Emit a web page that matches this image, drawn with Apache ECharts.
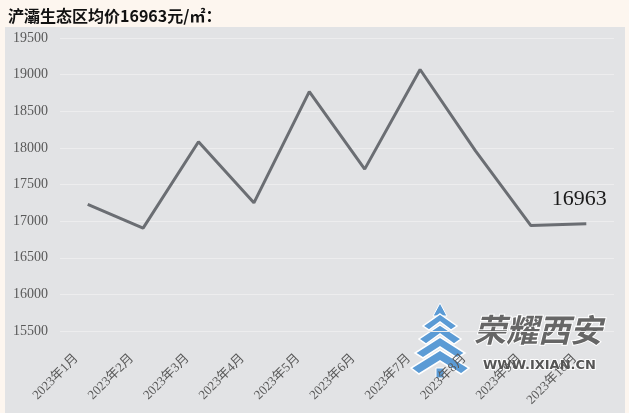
<!DOCTYPE html>
<html>
<head>
<meta charset="utf-8">
<script src="https://cdn.jsdelivr.net/npm/echarts@6/dist/echarts.min.js"></script>
<style>
html,body{margin:0;padding:0;background:#fdf6ef;}
#c{width:629px;height:413px;}
</style>
</head>
<body>
<div id="c"></div>
<script>
var titleText = '浐灞生态区均价16963元/㎡：';
var categories = ['2023年1月','2023年2月','2023年3月','2023年4月','2023年5月','2023年6月','2023年7月','2023年8月','2023年9月','2023年10月'];
var prices = [17230, 16905, 18083, 17250, 18767, 17710, 19070, 17960, 16940, 16963];
var yMin = 15500, yMax = 19500, yStep = 500;

var chart = echarts.init(document.getElementById('c'), null, {renderer:'canvas'});
var seriesData = prices.map(function(v, i){
  if (i === prices.length - 1) {
    return {value: v, label: {show: true, position: 'top', offset: [-7, -9], formatter: String(v),
      fontFamily: 'Liberation Serif', fontSize: 22, color: '#1a1a1a'}};
  }
  return v;
});

chart.setOption({
  backgroundColor: '#fdf6ef',
  animation: false,
  title: {
    text: titleText, left: 3, top: 3,
    textStyle: {fontFamily: 'Noto Sans CJK SC', fontWeight: 'bold', fontSize: 16, color: '#111'}
  },
  graphic: [
    {type: 'rect', z: -10, shape: {x: 5, y: 27, width: 620, height: 386}, style: {fill: '#e2e3e5'}},
    {type: 'group', z: 100, children: [
      {type: 'polygon', shape: {points: [[440,303],[447,316],[433,316]]}, style: {fill: '#5b9bd5', stroke: '#fff', lineWidth: 1}},
      {type: 'polygon', shape: {points: [[440,314],[457,326],[451,330],[440,322],[429,330],[423,326]]}, style: {fill: '#5b9bd5', stroke: '#fff', lineWidth: 1.5}},
      {type: 'polygon', shape: {points: [[440,325],[461,339],[454,344],[440,334],[426,344],[419,339]]}, style: {fill: '#5b9bd5', stroke: '#fff', lineWidth: 1.5}},
      {type: 'polygon', shape: {points: [[440,337],[465,353],[457,358],[440,347],[423,358],[415,353]]}, style: {fill: '#5b9bd5', stroke: '#fff', lineWidth: 1.5}},
      {type: 'polygon', shape: {points: [[440,350],[469,368],[461,374],[440,361],[419,374],[411,368]]}, style: {fill: '#5b9bd5', stroke: '#fff', lineWidth: 1.5}},
      {type: 'rect', shape: {x: 436, y: 368, width: 8, height: 10}, style: {fill: '#5b9bd5', stroke: '#fff', lineWidth: 1}},
      {type: 'text', style: {text: '荣耀西安', x: 474, y: 314, font: 'italic bold 32px "Noto Sans CJK SC"', fill: '#666', stroke: '#fff', lineWidth: 2}},
      {type: 'text', style: {text: 'WWW.IXIAN.CN', x: 483, y: 359, font: 'bold 13px "DejaVu Sans"', fill: '#555', stroke: '#fff', lineWidth: 2}}
    ]}
  ],
  grid: {left: 60, right: 15, top: 38, bottom: 82, containLabel: false},
  xAxis: {
    type: 'category', data: categories, boundaryGap: true,
    axisLine: {show: false}, axisTick: {show: false},
    axisLabel: {rotate: 45, margin: 14, interval: 0, padding: [0, 16, 0, 0],
      fontFamily: 'Liberation Serif, Noto Sans CJK SC', fontSize: 13, color: '#595959'}
  },
  yAxis: {
    type: 'value', min: yMin, max: yMax, interval: yStep,
    axisLine: {show: false}, axisTick: {show: false},
    axisLabel: {margin: 12, fontFamily: 'Liberation Serif', fontSize: 14, color: '#595959',
      formatter: function(v){ return String(v); }},
    splitLine: {lineStyle: {color: '#ededee', width: 1}}
  },
  series: [{
    type: 'line', data: seriesData, symbol: 'circle', symbolSize: 0, showSymbol: true,
    itemStyle: {color: '#6b6e73'},
    lineStyle: {color: '#6b6e73', width: 3}
  }]
});
</script>
</body>
</html>
